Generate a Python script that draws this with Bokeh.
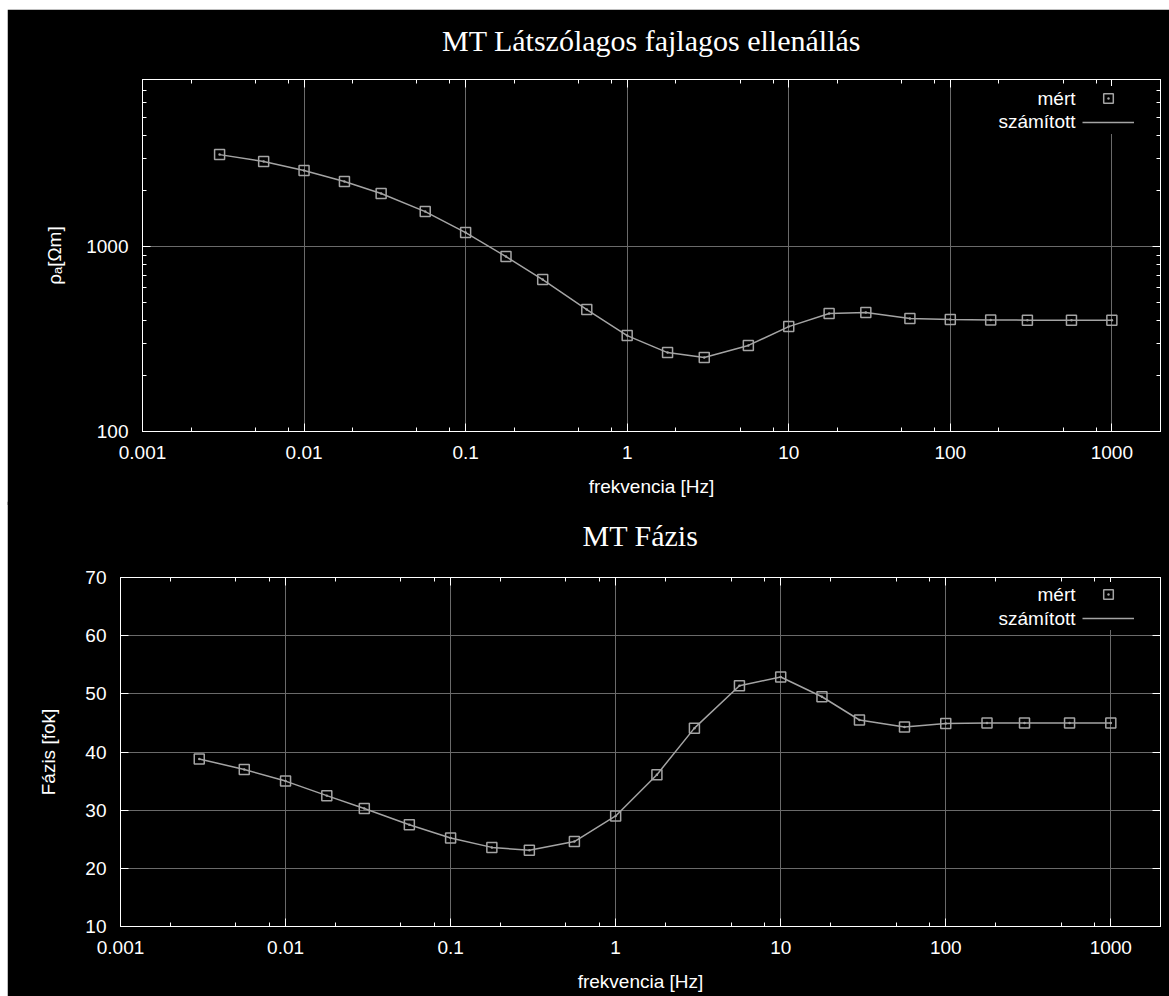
from bokeh.plotting import figure
from bokeh.models import (FixedTicker, LogAxis, LinearAxis, CustomJSTickFormatter,
                          Legend, LegendItem, Label, Title)
from bokeh.embed import file_html
from bokeh.resources import INLINE

# ---------------- data ----------------
freq = [0.003, 0.005623, 0.01, 0.01778, 0.03, 0.05623, 0.1, 0.1778, 0.3, 0.5623,
        1, 1.778, 3, 5.623, 10, 17.78, 30, 56.23, 100, 177.8, 300, 562.3, 1000]

rho_mert = [3140, 2880, 2575, 2245, 1934, 1545, 1190, 883, 663, 456,
            330, 267, 251, 292, 369, 434, 440, 408, 403, 401, 400, 400, 400]
rho_szamitott = [3140, 2880, 2575, 2245, 1934, 1545, 1190, 883, 663, 456,
                 330, 267, 251, 292, 369, 434, 440, 408, 403, 401, 400, 400, 400]

fazis_mert = [38.8, 37.0, 35.0, 32.5, 30.3, 27.5, 25.2, 23.6, 23.1, 24.6,
              29.0, 36.1, 44.1, 51.4, 52.9, 49.5, 45.5, 44.3, 44.9, 45.0, 45.0, 45.0, 45.0]
fazis_szamitott = [38.8, 37.0, 35.0, 32.5, 30.3, 27.5, 25.2, 23.6, 23.1, 24.6,
                   29.0, 36.1, 44.1, 51.4, 52.9, 49.5, 45.5, 44.3, 44.9, 45.0, 45.0, 45.0, 45.0]

x_major = [0.001, 0.01, 0.1, 1, 10, 100, 1000]
x_minor = [0.002, 0.005, 0.008, 0.02, 0.05, 0.08, 0.2, 0.5, 0.8, 2, 5, 8,
           20, 50, 80, 200, 500, 800, 2000]
rho_major = [100, 1000]
rho_minor = [200, 300, 400, 500, 600, 700, 800, 900,
             2000, 3000, 4000, 5000, 6000, 7000, 8000]
fazis_major = [10, 20, 30, 40, 50, 60, 70]

x_range = (0.001, 2000)
rho_range = (100, 8000)
fazis_range = (10, 70)

title_top = "MT Látszólagos fajlagos ellenállás"
title_bottom = "MT Fázis"
xlabel = "frekvencia [Hz]"
ylabel_top = "ρₐ[Ωm]"
ylabel_bottom = "Fázis [fok]"
leg_mert = "mért"
leg_szamitott = "számított"

# ---------------- style ----------------
SANS = "Liberation Sans"
SERIF = "Liberation Serif"
FS = "19px"
DATA_COL = "#a4a4a4"
GRID_COL = "#6a6a6a"
fmt = CustomJSTickFormatter(code="return String(tick);")


def style_axis(ax, ticker, show_labels):
    ax.ticker = ticker
    ax.axis_line_color = "white"
    ax.major_tick_line_color = "white"
    ax.minor_tick_line_color = "white"
    ax.major_tick_in = 8
    ax.major_tick_out = 0
    ax.minor_tick_in = 4
    ax.minor_tick_out = 0
    if show_labels:
        ax.formatter = fmt
        ax.major_label_text_color = "white"
        ax.major_label_text_font = SANS
        ax.major_label_text_font_size = FS
        ax.major_label_standoff = 14
        ax.axis_label_text_color = "white"
        ax.axis_label_text_font = SANS
        ax.axis_label_text_font_size = FS
        ax.axis_label_text_font_style = "normal"
    else:
        ax.major_label_text_font_size = "0px"
        ax.major_label_standoff = 0
        ax.major_label_text_alpha = 0


def make_plot(ylog, yrange, y_ticker, y_grid_ticker, title, ylabel, ymert, yszam,
              height, b_top, b_bottom, b_left, ylabel_standoff, xlabel_standoff,
              leg_xy, lab_xy, title_gap, margin):
    p = figure(width=1162, height=height, x_axis_type="log",
               y_axis_type="log" if ylog else "linear",
               x_range=x_range, y_range=yrange,
               output_backend="svg", toolbar_location=None,
               min_border_top=b_top, min_border_bottom=b_bottom,
               min_border_left=b_left, min_border_right=9, margin=margin)
    p.background_fill_color = "black"
    p.border_fill_color = "black"
    p.outline_line_color = "white"
    p.outline_line_width = 1
    p.title.text = ""

    xt = FixedTicker(ticks=x_major, minor_ticks=x_minor)
    style_axis(p.xaxis[0], xt, True)
    p.xaxis[0].axis_label = xlabel
    p.xaxis[0].axis_label_standoff = xlabel_standoff
    style_axis(p.yaxis[0], y_ticker, True)
    p.yaxis[0].axis_label = ylabel
    p.yaxis[0].axis_label_standoff = ylabel_standoff

    # mirrored axes (ticks only), gnuplot style
    top_ax = LogAxis()
    style_axis(top_ax, FixedTicker(ticks=x_major, minor_ticks=x_minor), False)
    p.add_layout(top_ax, "above")
    right_ax = LogAxis() if ylog else LinearAxis()
    style_axis(right_ax, FixedTicker(ticks=y_ticker.ticks, minor_ticks=y_ticker.minor_ticks), False)
    p.add_layout(right_ax, "right")

    # empty spacer between the frame and the title, then the title itself
    p.add_layout(Title(text=" ", text_font_size="1px", standoff=title_gap), "above")
    p.add_layout(Title(text=title, align="center", vertical_align="bottom",
                       text_color="white", text_font=SERIF, text_font_size="30px",
                       text_font_style="normal", standoff=0), "above")

    p.xgrid.ticker = FixedTicker(ticks=x_major)
    p.ygrid.ticker = y_grid_ticker
    for g in (p.xgrid, p.ygrid):
        g.grid_line_color = GRID_COL
        g.grid_line_width = 1

    ln = p.line(freq, yszam, line_color=DATA_COL, line_width=1.5)
    sc = p.scatter(freq, ymert, marker="square_dot", size=10, fill_color=None,
                   line_color=DATA_COL, line_width=1.5)

    leg = Legend(items=[LegendItem(label=" ", renderers=[sc]),
                        LegendItem(label=" ", renderers=[ln])],
                 location=leg_xy, glyph_width=52, glyph_height=24,
                 label_height=20, spacing=0, padding=4, margin=0,
                 label_standoff=0, border_line_color=None,
                 background_fill_color="black", background_fill_alpha=1,
                 label_text_font_size="4px")
    p.add_layout(leg)

    for txt, (lx, ly) in zip([leg_mert, leg_szamitott], lab_xy):
        p.add_layout(Label(x=lx, y=ly, x_units="screen", y_units="screen", text=txt,
                           text_align="right", text_baseline="middle",
                           text_color="white", text_font=SANS, text_font_size=FS))
    return p


p1 = make_plot(True, rho_range,
               FixedTicker(ticks=rho_major, minor_ticks=rho_minor),
               FixedTicker(ticks=[1000]),
               title_top, ylabel_top, rho_mert, rho_szamitott,
               height=496, b_top=70, b_bottom=74, b_left=135, ylabel_standoff=18,
               xlabel_standoff=14,
               leg_xy=(940, 297), lab_xy=[(933, 333), (933, 310)],
               title_gap=20, margin=(9, 0, 0, 7))
p2 = make_plot(False, fazis_range,
               FixedTicker(ticks=fazis_major, minor_ticks=[]),
               FixedTicker(ticks=[20, 30, 40, 50, 60]),
               title_bottom, ylabel_bottom, fazis_mert, fazis_szamitott,
               height=495, b_top=76, b_bottom=70, b_left=113, ylabel_standoff=23,
               xlabel_standoff=14,
               leg_xy=(962, 296), lab_xy=[(955, 332), (955, 308)],
               title_gap=23, margin=(-4, 0, 0, 7))

with open("out.html", "w") as f:
    f.write(file_html([p1, p2], INLINE))
